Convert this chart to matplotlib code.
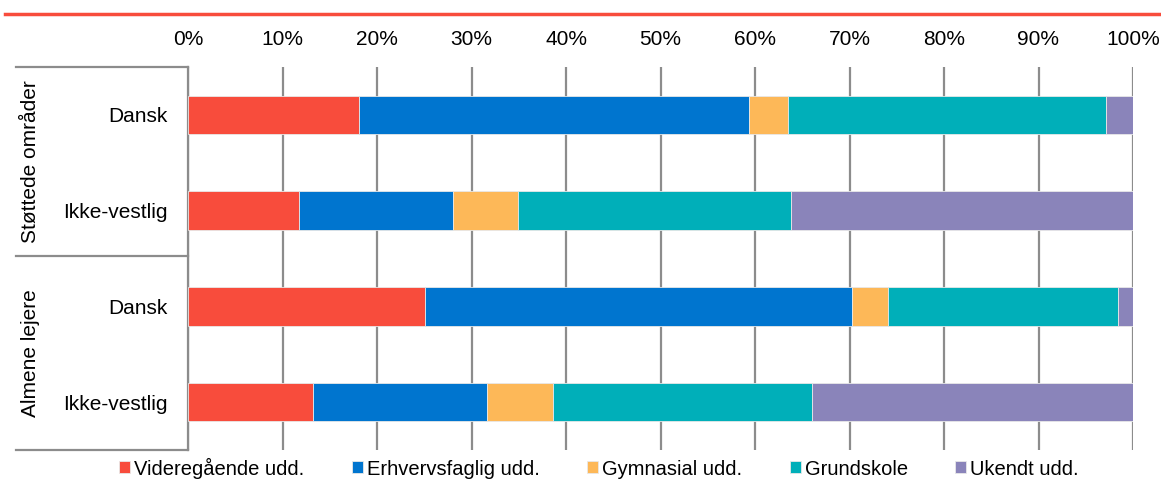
import numpy as np
import matplotlib
matplotlib.use("Agg")
import matplotlib.pyplot as plt
from matplotlib.lines import Line2D

plt.rcParams['font.family'] = ['Liberation Sans', 'DejaVu Sans']

categories = ["Dansk", "Ikke-vestlig", "Dansk", "Ikke-vestlig"]
groups = ["Støttede områder", "Almene lejere"]
series = ["Videregående udd.", "Erhvervsfaglig udd.", "Gymnasial udd.", "Grundskole", "Ukendt udd."]
videregaaende = [18.1, 11.7, 25.1, 13.2]
erhvervsfaglig = [41.3, 16.3, 45.2, 18.4]
gymnasial = [4.1, 6.9, 3.8, 7.0]
grundskole = [33.6, 28.9, 24.3, 27.4]
ukendt = [2.9, 36.2, 1.6, 34.0]
colors = ["#F84C3C", "#0075CF", "#FDB858", "#00AFB9", "#8A84BA"]

values = [videregaaende, erhvervsfaglig, gymnasial, grundskole, ukendt]

fig = plt.figure(figsize=(11.61, 4.8), dpi=100)
ax = fig.add_axes([188 / 1161, 1 - 450 / 480, (1133 - 188) / 1161, (450 - 67) / 480])

y = np.arange(len(categories))
left = np.zeros(len(categories))
for vals, col, name in zip(values, colors, series):
    ax.barh(y, vals, left=left, height=0.4, color=col, edgecolor="#e8e8e8",
            linewidth=0.6, label=name, zorder=3)
    left += np.array(vals)

ax.set_xlim(0, 100)
ax.set_ylim(3.5, -0.5)
ax.set_xticks(np.arange(0, 101, 10))
ax.set_xticklabels([f"{v}%" for v in range(0, 101, 10)], fontsize=15)
ax.xaxis.tick_top()
ax.tick_params(axis='x', length=0, pad=13)
ax.grid(axis='x', color="#8c8c8c", linewidth=1.6, zorder=0)
ax.set_yticks(y)
ax.set_yticklabels(categories, fontsize=15)
ax.tick_params(axis='y', length=0, pad=15)
for s in ["top", "right", "bottom"]:
    ax.spines[s].set_visible(False)
ax.spines["left"].set_color("#8c8c8c")
ax.spines["left"].set_linewidth(1.6)

# table lines to the left of the axes
x0, x1 = 16 / 1161, 188 / 1161
for yy in [67, 256, 450]:
    fig.add_artist(Line2D([x0, x1], [1 - yy / 480, 1 - yy / 480], color="#8c8c8c",
                          linewidth=1.6, transform=fig.transFigure))

# group labels
fig.text(31 / 1161, 1 - 162 / 480, groups[0], rotation=90, ha="center", va="center", fontsize=15)
fig.text(31 / 1161, 1 - 353 / 480, groups[1], rotation=90, ha="center", va="center", fontsize=15)

# red line on top
fig.add_artist(Line2D([5 / 1161, 1.0], [1 - 13.5 / 480, 1 - 13.5 / 480], color="#F84C3C",
                      linewidth=2.5, transform=fig.transFigure))

handles, labels = ax.get_legend_handles_labels()
fig.legend(handles, labels, loc="center", bbox_to_anchor=(599 / 1161, 1 - 468 / 480),
           ncol=5, frameon=False, fontsize=14.5, handlelength=0.55, handleheight=0.55,
           handletextpad=0.2, columnspacing=2.35)

fig.savefig("out.png", dpi=100)
